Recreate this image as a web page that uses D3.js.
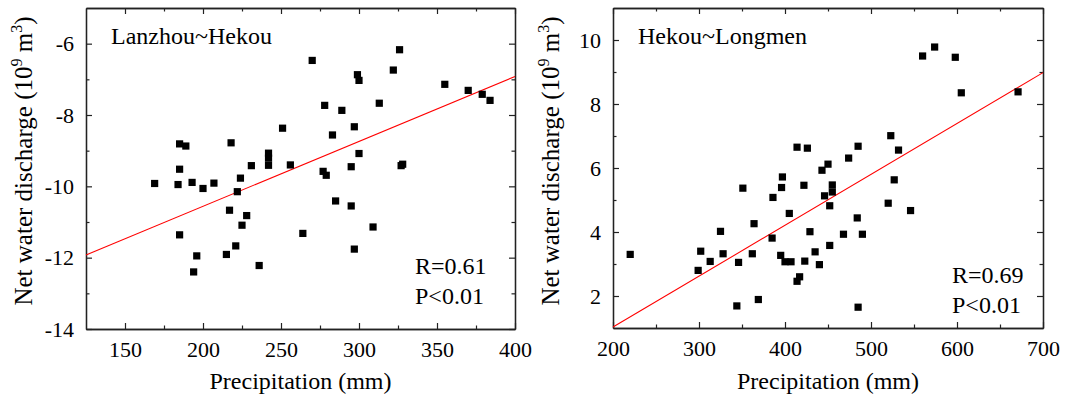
<!DOCTYPE html>
<html>
<head>
<meta charset="utf-8">
<script src="https://cdn.jsdelivr.net/npm/d3@7"></script>
<style>
  body { margin: 0; background: #fff; }
  svg, svg text { font-family: "Liberation Serif", "Times New Roman", Times, "DejaVu Serif", serif; }
</style>
</head>
<body>
<div id="chart"></div>
<script>
// Lanzhou~Hekou
const lhPrecip = [270, 326, 322, 299, 300, 355, 370, 379, 384, 278, 289, 313, 251, 297, 283,
  185, 189, 218, 242, 242, 300, 231, 242, 256, 295, 327, 328, 277, 279, 185, 169, 184, 193,
  200, 207, 224, 222, 285, 295, 217, 228, 225, 309, 185, 264, 221, 297, 196, 215, 236, 194]
const lhDischarge = [-6.47, -6.17, -6.74, -6.87, -7.03, -7.14, -7.31, -7.42, -7.59, -7.73, -7.87, -7.67, -8.37, -8.33, -8.56,
  -8.81, -8.87, -8.78, -9.07, -9.21, -9.08, -9.42, -9.41, -9.40, -9.45, -9.42, -9.38, -9.58, -9.69, -9.52, -9.92, -9.95, -9.89,
  -10.06, -9.91, -9.77, -10.15, -10.41, -10.55, -10.67, -10.82, -11.09, -11.14, -11.36, -11.32, -11.67, -11.76, -11.95, -11.91, -12.22, -12.40]
const lhFit = [0.0182, -14.2]   // slope, intercept
const lhXTicks = [150, 200, 250, 300, 350, 400]
const lhXMinor = [175, 225, 275, 325, 375]
const lhYTicks = [-14, -12, -10, -8, -6]
const lhYMinor = [-13, -11, -9, -7]

// Hekou~Longmen
const hlPrecip = [560, 574, 598, 605, 671, 523, 414, 426, 485, 532, 450, 474, 443, 397, 527,
  351, 396, 422, 455, 455, 386, 446, 452, 520, 546, 405, 364, 484, 325, 429, 468, 490, 385, 452,
  220, 302, 328, 362, 395, 435, 313, 346, 400, 407, 423, 440, 299, 417, 414, 344, 369, 485]
const hlDischarge = [9.50, 9.78, 9.46, 8.35, 8.38, 7.01, 6.65, 6.62, 6.68, 6.56, 6.12, 6.31, 5.93, 5.72, 5.63,
  5.37, 5.39, 5.46, 5.47, 5.25, 5.08, 5.13, 4.82, 4.90, 4.67, 4.58, 4.26, 4.44, 4.02, 4.01, 3.93, 3.93, 3.81, 3.58,
  3.30, 3.40, 3.32, 3.32, 3.27, 3.38, 3.08, 3.05, 3.07, 3.07, 3.09, 2.98, 2.80, 2.60, 2.46, 1.69, 1.89, 1.65]
const hlFit = [0.0159, -2.15]
const hlXTicks = [200, 300, 400, 500, 600, 700]
const hlXMinor = [250, 350, 450, 550, 650]
const hlYTicks = [2, 4, 6, 8, 10]
const hlYMinor = [3, 5, 7, 9]

const serif = "'Liberation Serif', 'Times New Roman', Times, 'DejaVu Serif', serif"

const svg = d3.select("#chart")
    .append("svg")
    .attr("width", 1068)
    .attr("height", 401)
    .attr("font-family", serif)

function panel({ left, right, top, bottom, name, xs, ys, fit, xDomain, yDomain,
                 xTicks, xMinor, yTicks, yMinor, stats, statsX, statsY, labelGap }) {

    const x = d3.scaleLinear().domain(xDomain).range([left, right])
    const y = d3.scaleLinear().domain(yDomain).range([bottom, top])
    const g = svg.append("g")

    const fmt = d => String(d)
    const frame = (axis, tr, ticks, size, labels) => g.append("g")
        .attr("transform", tr)
        .call(axis.tickValues(ticks).tickSize(size).tickSizeOuter(0)
            .tickPadding(labels ? labelGap : 0)
            .tickFormat(labels ? fmt : ""))
        .attr("font-family", serif)
        .attr("font-size", 22)
        .call(a => a.select(".domain").attr("stroke", "#222").attr("stroke-width", 1.3))
        .call(a => a.selectAll(".tick line").attr("stroke", "#222").attr("stroke-width", 1.2))
        .call(a => a.selectAll("text").attr("fill", "#000"))

    // major and minor ticks on all four sides, pointing inward
    frame(d3.axisBottom(x), `translate(0,${bottom})`, xTicks, -6, true)
    frame(d3.axisBottom(x), `translate(0,${bottom})`, xMinor, -3.5, false)
    frame(d3.axisTop(x), `translate(0,${top})`, xTicks, -6, false)
    frame(d3.axisTop(x), `translate(0,${top})`, xMinor, -3.5, false)
    frame(d3.axisLeft(y), `translate(${left},0)`, yTicks, -6, true)
    frame(d3.axisLeft(y), `translate(${left},0)`, yMinor, -3.5, false)
    frame(d3.axisRight(y), `translate(${right},0)`, yTicks, -6, false)
    frame(d3.axisRight(y), `translate(${right},0)`, yMinor, -3.5, false)

    // regression line
    g.append("line")
        .attr("x1", x(xDomain[0])).attr("y1", y(fit[0] * xDomain[0] + fit[1]))
        .attr("x2", x(xDomain[1])).attr("y2", y(fit[0] * xDomain[1] + fit[1]))
        .attr("stroke", "#ff0000")
        .attr("stroke-width", 1.1)

    g.append("g")
        .selectAll("rect")
        .data(d3.range(xs.length))
        .join("rect")
        .attr("x", i => x(xs[i]) - 3.6)
        .attr("y", i => y(ys[i]) - 3.6)
        .attr("width", 7.2)
        .attr("height", 7.2)
        .attr("fill", "#000")

    g.append("text")
        .attr("x", left + 25)
        .attr("y", top + 36)
        .attr("font-size", 24)
        .text(name)

    g.selectAll("text.stat")
        .data(stats)
        .join("text")
        .attr("class", "stat")
        .attr("x", statsX)
        .attr("y", (d, i) => statsY + i * 30)
        .attr("font-size", 24)
        .text(d => d)

    g.append("text")
        .attr("x", (left + right) / 2)
        .attr("y", 389)
        .attr("text-anchor", "middle")
        .attr("font-size", 24)
        .text("Precipitation (mm)")

    const yt = g.append("text")
        .attr("transform", `translate(${left - 54},161) rotate(-90)`)
        .attr("text-anchor", "middle")
        .attr("font-size", 25)
    yt.append("tspan").text("Net water discharge (10")
    yt.append("tspan").attr("dy", -10).attr("font-size", 16).text("9")
    yt.append("tspan").attr("dy", 10).text(" m")
    yt.append("tspan").attr("dy", -10).attr("font-size", 16).text("3")
    yt.append("tspan").attr("dy", 10).text(")")
}

panel({
    left: 86, right: 515, top: 8, bottom: 329,
    name: "Lanzhou~Hekou", xs: lhPrecip, ys: lhDischarge, fit: lhFit,
    xDomain: [125, 400], yDomain: [-14, -5],
    xTicks: lhXTicks, xMinor: lhXMinor, yTicks: lhYTicks, yMinor: lhYMinor,
    stats: ["R=0.61", "P<0.01"], statsX: 415, statsY: 274, labelGap: 12
})

panel({
    left: 613, right: 1043, top: 8, bottom: 328,
    name: "Hekou~Longmen", xs: hlPrecip, ys: hlDischarge, fit: hlFit,
    xDomain: [200, 700], yDomain: [1, 11],
    xTicks: hlXTicks, xMinor: hlXMinor, yTicks: hlYTicks, yMinor: hlYMinor,
    stats: ["R=0.69", "P<0.01"], statsX: 952, statsY: 283, labelGap: 12
})
</script>
</body>
</html>
